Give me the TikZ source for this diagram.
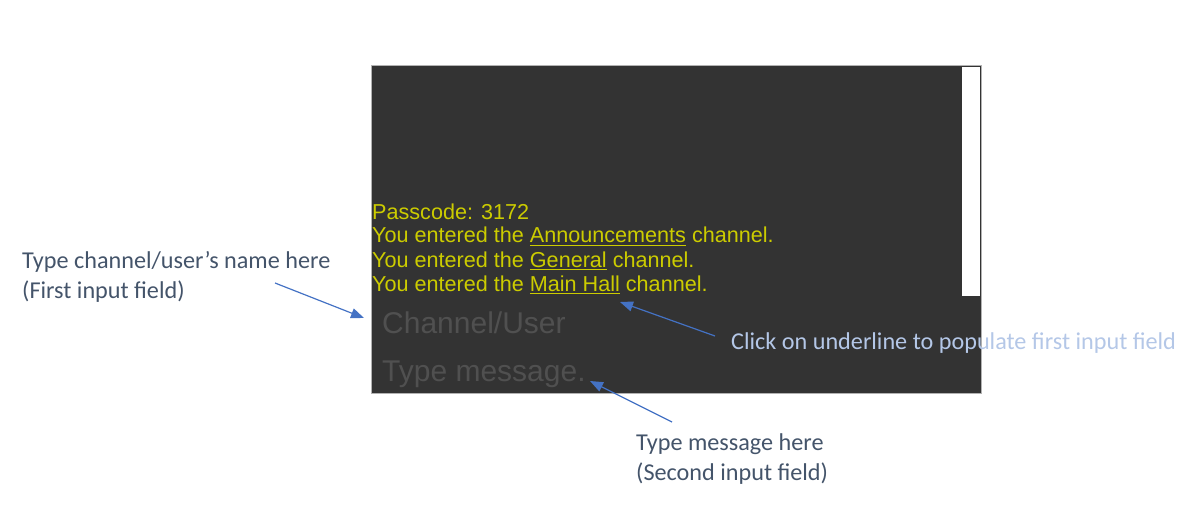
\documentclass[tikz,border=0pt]{standalone}
\usepackage{fontspec}
\setmainfont{Liberation Sans}
\newfontfamily\notefont{Carlito}
\usetikzlibrary{arrows.meta}
\definecolor{screengray}{RGB}{51,51,51}
\definecolor{chatyellow}{RGB}{204,204,0}
\definecolor{hintgray}{RGB}{80,80,80}
\definecolor{notedark}{RGB}{68,84,106}
\definecolor{notelight}{RGB}{180,199,231}
\definecolor{arrowblue}{RGB}{68,114,196}
\newcommand\chanlink[1]{\setbox0\hbox{#1}\rlap{\rule[-3pt]{\wd0}{1.5pt}}\box0\relax}

\tikzset{
  chatline/.style={anchor=base west,inner sep=0pt,text=chatyellow,font=\fontsize{21.6}{24}\selectfont},
  hint/.style={anchor=base west,inner sep=0pt,text=hintgray,font=\fontsize{30}{34}\selectfont},
  note/.style={anchor=west,align=left,inner sep=0pt,font=\notefont\fontsize{24.2}{30}\selectfont},
  pointer/.style={draw=arrowblue,line width=1.2pt,-{Triangle[length=13pt,width=10pt]}}
}

\begin{document}
\begin{tikzpicture}[x=1pt,y=-1pt]
\useasboundingbox (0,0) rectangle (1202,505);
% the chat screen
\node[draw=gray!60,line width=1pt,fill=screengray,minimum width=610pt,minimum height=328pt,anchor=north west,inner sep=0pt] (screen) at (371,65) {};
\node[fill=white,minimum width=18pt,minimum height=229pt,anchor=north west,inner sep=0pt] (scrollbar) at (962,67) {};
% messages
\node[chatline] (pass) at (372,219) {Passcode: 3172};
\node[chatline] (announce) at (372,243) {You entered the \chanlink{Announcements} channel.};
\node[chatline] (general) at (372,267) {You entered the \chanlink{General} channel.};
\node[chatline] (mainhall) at (372,291) {You entered the \chanlink{Main Hall} channel.};
% input fields
\node[hint] (chan) at (382,333) {Channel/User};
\node[hint] (msg) at (382,381) {Type message.};
% notes
\node[note,text=notedark] (firstnote) at (22,277) {Type channel/user’s name here\\(First input field)};
\node[note,text=notelight] (clicknote) at (731,343) {Click on underline to populate first input field};
\node[note,text=notedark] (secondnote) at (636,459) {Type message here\\(Second input field)};
% pointers
\coordinate (firsttail) at (275,283);
\coordinate (firsthead) at (364,318);
\coordinate (clicktail) at (715,336);
\coordinate (clickhead) at (620,302);
\coordinate (secondtail) at (672,422);
\coordinate (secondhead) at (590,381);
\draw[pointer] (firsttail) -- (firsthead);
\draw[pointer] (clicktail) -- (clickhead);
\draw[pointer] (secondtail) -- (secondhead);
\end{tikzpicture}
\end{document}
